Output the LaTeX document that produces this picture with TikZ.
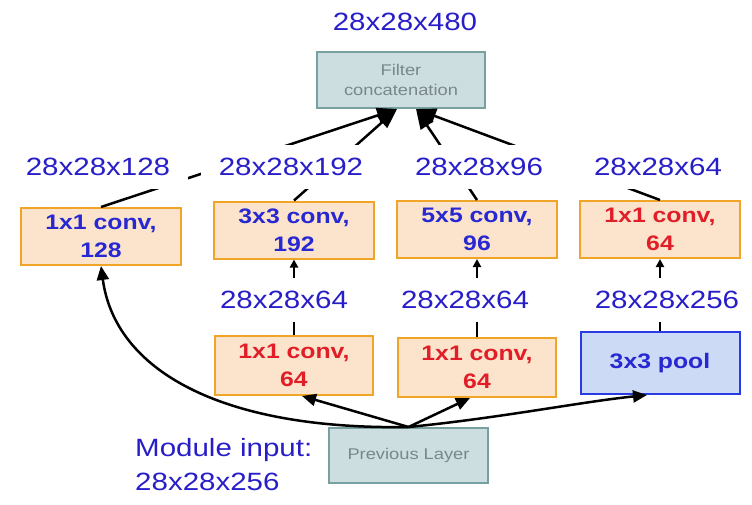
\documentclass[tikz,border=0pt]{standalone}
\usepackage{fontspec}
\usetikzlibrary{arrows.meta}
\newfontfamily\lab{Liberation Sans}[FakeStretch=1.18]
\definecolor{labblue}{RGB}{40,30,200}
\definecolor{txtblue}{RGB}{40,40,210}
\definecolor{txtred}{RGB}{225,30,40}
\definecolor{convfill}{RGB}{252,228,204}
\definecolor{convborder}{RGB}{240,165,40}
\definecolor{poolfill}{RGB}{205,218,245}
\definecolor{poolborder}{RGB}{40,60,225}
\definecolor{grayfill}{RGB}{205,222,224}
\definecolor{grayborder}{RGB}{120,160,160}
\definecolor{graytext}{RGB}{120,135,140}
\begin{document}
\begin{tikzpicture}[x=1pt,y=-1pt,
  conv/.style={draw=convborder, fill=convfill, line width=2pt, minimum width=160pt, minimum height=57pt, align=center, inner sep=0pt, font=\lab\bfseries\fontsize{21}{28}\selectfont},
  pool/.style={conv, draw=poolborder, fill=poolfill, text=txtblue},
  graybox/.style={draw=grayborder, fill=grayfill, line width=2pt, minimum width=168pt, minimum height=56pt, align=center, inner sep=0pt, text=graytext, font=\lab\fontsize{15.5}{20}\selectfont},
  dimlab/.style={fill=white, minimum width=180pt, minimum height=44pt, inner sep=0pt, text=labblue, font=\lab\fontsize{25}{30}\selectfont},
  cl/.style={line width=2.5pt, black},
  bigarr/.style={-{Triangle[length=20pt,width=15pt]}},
  midarr/.style={-{Triangle[length=14pt,width=12pt]}},
  smallarr/.style={-{Triangle[length=8pt,width=8pt]}}
]
\useasboundingbox (0,0) rectangle (752,504);
% boxes
\node[graybox] (concat) at (401,80) {Filter\\concatenation};
\node[conv, text=txtblue] (A) at (101,236.5) {1x1 conv,\\128};
\node[conv, text=txtblue] (B) at (294,230) {3x3 conv,\\192};
\node[conv, text=txtblue] (C) at (477,229.5) {5x5 conv,\\96};
\node[conv, text=txtred] (D) at (660,229.5) {1x1 conv,\\64};
\node[conv, text=txtred, minimum width=158pt, minimum height=59pt] (E) at (294,365.5) {1x1 conv,\\64};
\node[conv, text=txtred, minimum width=158pt, minimum height=59pt] (F) at (477,367.5) {1x1 conv,\\64};
\node[pool, minimum width=159pt, minimum height=62pt] (G) at (660,363) {3x3 pool};
\node[graybox, minimum width=159pt, minimum height=55pt] (prev) at (408.5,455.5) {Previous Layer};
% connectors
\draw[cl,bigarr] (A.north) -- ([xshift=-4pt]concat.south);
\draw[cl,bigarr] (B.north) -- ([xshift=-4pt]concat.south);
\draw[cl,bigarr] (C.north) -- ([xshift=15pt]concat.south);
\draw[cl,bigarr] (D.north) -- ([xshift=15pt]concat.south);
\draw[cl,smallarr] (E.north) -- (B.south);
\draw[cl,smallarr] (F.north) -- (C.south);
\draw[cl,smallarr] (G.north) -- (D.south);
\draw[cl,midarr] (prev.north) .. controls (220,430) and (115,370) .. (A.south);
\draw[cl,midarr] (prev.north) -- ([xshift=8pt]E.south);
\draw[cl,midarr] (prev.north) -- ([xshift=-7pt]F.south);
\draw[cl,midarr] (prev.north) .. controls (500,418) and (580,402) .. ([xshift=-13pt]G.south);
% dimension labels
\node[dimlab, fill=none] (ltop) at (405,22) {28x28x480};
\node[dimlab] (l128) at (98,167) {28x28x128};
\node[dimlab] (l192) at (291,167) {28x28x192};
\node[dimlab] (l96) at (479,167) {28x28x96};
\node[dimlab] (l64) at (658,167) {28x28x64};
\node[dimlab] (m64a) at (284,300) {28x28x64};
\node[dimlab] (m64b) at (465,300) {28x28x64};
\node[dimlab] (m256) at (667,300) {28x28x256};
\node[anchor=west, align=left, inner sep=0pt, text=labblue, font=\lab\fontsize{25}{34}\selectfont] (modin) at (135,465) {Module input:\\28x28x256};
\end{tikzpicture}
\end{document}
